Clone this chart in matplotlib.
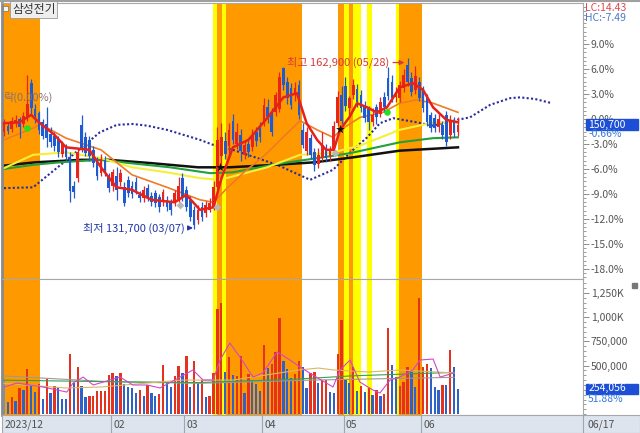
import matplotlib
matplotlib.use("Agg")
import matplotlib.pyplot as plt
import matplotlib.transforms as mtransforms
from matplotlib.patches import Rectangle
from matplotlib.lines import Line2D
from matplotlib.ticker import FixedLocator, AutoMinorLocator

plt.rcParams['font.family'] = ['Noto Sans CJK KR', 'DejaVu Sans']

# ---------------- data (price in % vs. base 151,700, one row per trading day) ----------------
base_price = 151700
opens = [-1.6, -0.8, -1.2, -0.4, 0.0, -0.6, 0.3, 4.3, 1.2, 0.7,
         -0.4, -0.6, -1.8, -2.0, -2.4, -4.2, -3.2, -4.8, -8.1, -7.1,
         -0.7, -2.2, -2.5, -3.7, -5.2, -6.5, -4.9, -7.0, -8.1, -6.9,
         -7.6, -8.2, -7.3, -8.0, -7.6, -9.1, -9.5, -8.3, -9.2, -8.9,
         -9.4, -10.0, -9.7, -10.0, -10.1, -9.7, -7.1, -8.5, -9.7, -10.9,
         -12.1, -10.6, -11.3, -10.9, -10.6, -8.2, -4.5, -2.6, -3.3, -0.2,
         -3.0, -1.9, -4.3, -3.0, -3.4, -1.6, -1.0, -0.4, 1.5, 0.8,
         0.8, 1.2, 6.1, 4.4, 3.7, 2.9, 4.1, -1.3, -3.9, -2.3,
         -4.0, -5.4, -4.7, -3.5, -4.6, -3.8, -0.5, 2.9, 4.0, 1.3,
         2.9, 3.6, 2.9, 1.7, 1.2, -0.3, 1.4, 0.6, 2.6, 4.9,
         4.4, 2.6, 2.5, 3.7, 6.5, 4.9, 3.5, 4.4, 3.7, 2.5,
         0.5, 0.1, -1.0, -0.7, 0.5, -1.9, -0.2, -1.6]
closes = [-0.4, -1.4, -0.2, -0.1, -1.0, 0.4, 1.8, 1.3, 0.4, -1.3,
          -2.0, -2.3, -2.8, -3.3, -4.0, -3.0, -4.6, -8.6, -8.8, -4.0,
          -3.6, -4.1, -4.4, -5.3, -6.9, -4.8, -6.3, -8.3, -6.4, -8.5,
          -6.5, -10.1, -8.9, -9.0, -8.5, -9.5, -8.5, -9.4, -10.0, -10.1,
          -10.6, -8.8, -10.6, -10.9, -8.9, -8.0, -9.4, -10.6, -11.8, -12.7,
          -10.9, -11.8, -10.3, -10.1, -8.2, -2.5, -2.2, -4.2, -1.3, -2.5,
          -1.5, -3.9, -3.1, -4.0, -1.9, -2.7, -2.2, 1.7, 0.3, -1.6,
          2.9, 5.0, 4.1, 2.5, 1.7, 3.7, 0.5, -3.1, -1.6, -4.3,
          -5.5, -4.3, -3.1, -4.7, -3.8, -0.8, 2.6, -0.2, 1.6, 2.5,
          4.1, 2.0, 1.3, 0.1, -0.4, 0.5, 0.3, 2.1, 1.4, 2.8,
          2.5, 3.2, 4.1, 5.3, 4.4, 3.2, 5.2, 2.5, 1.3, -0.4,
          -1.1, -1.1, 0.0, -1.9, -2.8, -0.1, -1.7, -0.66]
highs = [0.0, -0.3, 0.3, 0.5, 0.2, 0.9, 5.3, 4.8, 1.8, 1.0,
         0.0, 1.4, -1.0, -1.5, -2.0, -2.6, -3.0, -4.0, -7.5, -3.6,
         0.5, -1.5, -2.0, -3.2, -4.6, -4.2, -4.5, -6.5, -6.0, -5.8,
         -6.0, -7.6, -6.8, -7.5, -7.0, -8.7, -8.0, -7.8, -8.8, -8.5,
         -9.0, -8.4, -9.2, -9.6, -8.5, -7.0, -6.5, -8.0, -9.3, -10.5,
         -10.3, -10.0, -9.8, -9.5, -7.5, -1.0, -0.5, -1.6, -0.5, 0.6,
         -0.5, -1.2, -2.7, -2.4, -1.2, -1.0, -0.4, 2.5, 2.4, 1.3,
         3.2, 5.6, 6.2, 5.0, 4.3, 4.5, 4.7, -0.5, -1.0, -1.8,
         -3.5, -3.5, -1.5, -3.0, -3.2, -0.2, 3.4, 4.0, 5.0, 2.8,
         4.8, 4.2, 3.5, 2.2, 1.6, 1.3, 1.8, 2.7, 3.2, 6.2,
         5.3, 3.8, 4.6, 6.0, 7.38, 5.6, 6.4, 5.0, 4.0, 3.0,
         0.8, 0.6, 0.6, -0.2, 1.0, 0.5, 0.3, 0.2]
lows = [-2.0, -1.8, -1.5, -0.9, -2.3, -1.0, -0.2, 0.5, -0.5, -1.8,
        -2.4, -3.4, -3.4, -3.8, -4.6, -4.6, -5.0, -10.0, -9.5, -7.6,
        -4.0, -4.5, -5.0, -5.8, -7.3, -6.9, -6.8, -8.8, -8.7, -9.7,
        -8.0, -10.5, -9.4, -9.5, -9.0, -10.0, -10.0, -9.8, -10.5, -10.6,
        -11.2, -10.4, -11.0, -11.5, -10.5, -10.0, -9.8, -11.0, -12.2, -13.18,
        -12.6, -12.2, -11.8, -11.2, -10.9, -8.5, -5.8, -4.8, -4.4, -3.0,
        -3.6, -5.1, -4.8, -4.6, -3.8, -3.2, -2.8, -0.8, -0.5, -2.0,
        0.4, 0.8, 3.5, 1.8, 1.2, 2.2, 0.0, -3.5, -4.3, -4.8,
        -6.2, -5.9, -5.0, -5.2, -5.0, -4.2, -0.8, -0.6, 1.0, 0.5,
        2.4, 1.5, 0.8, -0.4, -1.3, -0.8, -0.6, 0.2, 0.9, 2.3,
        2.0, 2.0, 2.0, 3.2, 4.0, 2.8, 3.0, 2.2, 0.8, -0.8,
        -1.6, -1.6, -1.5, -2.4, -3.3, -2.4, -2.1, -2.0]

volumes_k = [351, 127, 172, 134, 265, 248, 468, 300, 231, 307,
             152, 358, 220, 293, 265, 155, 155, 617, 324, 486,
             289, 179, 186, 189, 241, 238, 238, 403, 420, 393,
             420, 307, 276, 265, 220, 248, 186, 300, 220, 186,
             207, 503, 324, 276, 393, 499, 427, 603, 276, 551,
             317, 351, 172, 186, 427, 1081, 1143, 437, 592, 403,
             393, 603, 220, 413, 351, 310, 241, 713, 472, 513,
             644, 988, 551, 465, 369, 413, 548, 489, 265, 420,
             430, 320, 351, 351, 225, 215, 617, 971, 351, 317,
             489, 238, 293, 231, 265, 196, 248, 186, 207, 885,
             503, 379, 293, 334, 489, 437, 276, 1195, 489, 513,
             472, 282, 248, 300, 300, 661, 489, 254]
volume_dir = list("bbrbrbrbbr" "brbrbbbrbr" "bbrrrrrrrb" "rbbbbrbrbb" "rrbbrrbrbr"
                  "brbrrrrbrb" "rrbrbbbrbr" "rrbbbrrbbr" "rbrrbbrrbb" "rbrbrbrbrr"
                  "bbrrrbbrrr" "bbbrbrbb")

# moving-average lines at sample days
ma5_x = [0, 4, 7, 9, 13, 16, 22, 25, 29, 33, 38, 44, 47, 50.5, 54, 56, 59, 63,
         68, 72, 75.5, 78, 80.7, 83, 85, 86.6, 89, 91, 93.6, 96, 98.7, 102, 105.4,
         108, 110.6, 114, 117]
ma5_y = [-0.5, -0.4, 0.5, -0.4, -1.9, -3.4, -3.7, -5.8, -8.2, -8.5, -9.7, -10.0,
         -9.1, -10.9, -10.6, -7.2, -3.4, -2.5, 0.2, 2.6, 3.1, -0.5, -2.5, -3.7, -3.7,
         -1.3, 0.2, 1.9, 1.4, 0.8, 1.4, 3.8, 4.3, 3.5, 1.4, -0.1, -0.4]
ma20_x = [0, 7.5, 9.3, 16, 25, 33, 42, 50.5, 54, 57.5, 61.6, 67.8, 71.9, 76.3,
          80.7, 84.8, 87.4, 91.8, 97.7, 102, 106.4, 110.6, 117]
ma20_y = [-2.5, -1.1, -0.6, -2.3, -3.7, -6.7, -8.2, -9.7, -10.0, -8.3, -6.5, -4.1,
          -2.2, -0.2, -1.3, -2.2, -1.1, 0.2, 0.8, 1.9, 2.3, 1.9, 0.8]
ma60_x = [0, 7.5, 16, 25, 33, 42, 50.5, 55.7, 67.8, 76.3, 84, 91.7, 102, 109.8, 117]
ma60_y = [-5.9, -4.3, -4.0, -4.7, -5.8, -6.4, -7.1, -7.3, -5.8, -4.3, -4.1, -3.2,
          -1.3, -0.5, -0.3]
ma120_x = [0, 7.5, 14.4, 24.7, 32.5, 42.8, 53.1, 59, 70.4, 80.7, 89.2, 102, 110.6, 117]
ma120_y = [-6.0, -5.5, -5.2, -4.9, -5.3, -5.8, -6.5, -6.4, -5.4, -4.7, -4.1, -2.8,
           -2.3, -2.2]
ma240_x = [0, 8, 20, 27, 38, 50, 58, 70, 80, 90, 102, 117]
ma240_y = [-5.6, -5.2, -4.9, -4.9, -5.3, -5.8, -5.8, -5.5, -5.2, -4.6, -3.8, -3.4]
lead_x = [0, 7.5, 16.2, 24.7, 29.1, 33.2, 36.9, 42, 50.5, 53.9, 59, 70.4, 78.9, 84.8,
          90, 93.6, 96.9, 100.3, 106.4, 110.6, 116.8, 120.1, 125.3, 130.4, 133, 136.9,
          141.2]
lead_y = [-8.3, -8.2, -4.9, -1.6, -0.7, -0.6, -0.8, -1.3, -2.5, -3.1, -3.7, -5.5, -7.3,
          -6.1, -3.7, -2.2, -0.5, 0.1, -0.4, -0.8, -0.1, 0.2, 1.7, 2.5, 2.6, 2.4, 1.9]

# volume averages (thousand shares) at sample days
vma5_x = [0, 3.4, 10, 16.2, 17.8, 20.4, 23, 27.3, 29.9, 33.2, 36.9, 40.2, 45.4, 48.7,
          51.3, 53.9, 55.7, 58.2, 60.8, 64.2, 66.7, 70.4, 73.7, 76.3, 79.6, 84.8, 86.6,
          89.2, 91.7, 95.1, 96.9, 99.5, 102, 105.4, 107.2, 110.6, 112.4, 116]
vma5_y = [279, 320, 279, 227, 320, 382, 300, 351, 382, 300, 300, 269, 382, 455,
          351, 351, 558, 734, 589, 382, 424, 641, 558, 486, 403, 279, 455,
          558, 331, 248, 217, 351, 382, 455, 558, 568, 382, 424]
vma20_x = [0, 16, 25, 46, 59, 76, 81, 85, 94, 102, 116]
vma20_y = [317, 269, 279, 351, 351, 455, 475, 455, 434, 455, 424]
vma60_x = [0, 25, 50, 75, 90, 116]
vma60_y = [350, 335, 325, 360, 395, 430]
vma120_x = [0, 27, 50, 80, 116]
vma120_y = [393, 334, 317, 351, 379]

# signal markers
green_sig = ([6, 98.7], [-1.1, 0.8])
black_sig = ([55.7, 86.6], [-5.8, -1.2])
gray_sig = ([45.4, 54.9, 85.3], [-10.3, -10.6, -4.1])

# background signal bands (start day, end day, colour)
bands = [(-0.5, 9.3, '#ff9900'), (53.9, 54.9, '#ffff00'), (54.9, 56.2, '#ff9900'),
         (56.2, 57.2, '#ffff00'), (57.2, 76.8, '#ff9900'), (86.1, 87.6, '#ff9900'),
         (87.6, 88.9, '#ffff00'), (88.9, 89.9, '#ff9900'), (89.9, 92.0, '#ffff00'),
         (93.6, 94.8, '#ffff00'), (101.0, 101.8, '#ffff00'), (101.8, 107.7, '#ff9900')]

month_labels = ['2023/12', '02', '03', '04', '05', '06']
month_starts = [-0.5, 27.5, 46.5, 66.5, 87.5, 107.5]

# ---------------- layout helpers ----------------
W, H = 640, 433
def box(x0, y0, x1, y1):
    return [x0 / W, 1 - y1 / H, (x1 - x0) / W, (y1 - y0) / H]

fig = plt.figure(figsize=(6.4, 4.33), dpi=100)
fig.patch.set_facecolor('white')
ax = fig.add_axes(box(2, 3, 583, 279))
axv = fig.add_axes(box(2, 279, 583, 415))
axd = fig.add_axes(box(2, 415, 640, 433))

xmin, xmax = -0.515, 149.23
n = len(closes)
days = list(range(n))
RED, BLUE = '#e8241c', '#1f5bd0'

for a in (ax, axv):
    a.set_xlim(xmin, xmax)
    for s0, s1, col in bands:
        a.axvspan(s0, s1, color=col, lw=0, zorder=0)
    a.set_xticks([])
    for sp in a.spines.values():
        sp.set_color('#a8a8a8')
        sp.set_linewidth(0.8)
    a.spines['left'].set_linewidth(2)
    a.spines['left'].set_color('#8a8a8a')
    a.yaxis.tick_right()
    a.tick_params(axis='y', which='major', length=4, width=0.7, color='#8c8c8c',
                  labelsize=7.5, labelcolor='#555555', pad=1.5)
    a.tick_params(axis='y', which='minor', length=2, width=0.6, color='#8c8c8c')

# ---------------- price panel ----------------
ax.set_ylim(-19.21, 13.93)
pct_ticks = [9, 6, 3, 0, -3, -6, -9, -12, -15, -18]
ax.yaxis.set_major_locator(FixedLocator(pct_ticks))
ax.set_yticklabels([f'{t:.1f}%' for t in pct_ticks])
ax.yaxis.set_minor_locator(AutoMinorLocator(6))

ax.plot(lead_x, lead_y, color='#2b2b9c', lw=1.5, ls=(0, (1, 1.1)),
        dash_capstyle='butt', zorder=2)
ax.plot(ma240_x, ma240_y, color='#111111', lw=1.8, zorder=2)
ax.plot(ma120_x, ma120_y, color='#21a03c', lw=1.5, zorder=2)
ax.plot(ma60_x, ma60_y, color='#f4f03a', lw=1.5, zorder=2)
ax.plot(ma20_x, ma20_y, color='#f07a26', lw=1.2, zorder=2)

cols = [RED if c >= o else BLUE for o, c in zip(opens, closes)]
ax.vlines(days, lows, highs, colors=cols, lw=0.9, zorder=3)
ax.bar(days, [max(abs(c - o), 0.15) for o, c in zip(opens, closes)],
       bottom=[min(o, c) for o, c in zip(opens, closes)], width=0.7,
       color=cols, lw=0, zorder=4)
ax.plot(ma5_x, ma5_y, color='#e8201a', lw=1.8, zorder=5)

ax.scatter(*green_sig, s=22, color='#22e022', zorder=6, lw=0)
ax.scatter(*black_sig, s=45, color='#111111', marker='*', zorder=6, lw=0)
ax.scatter(*gray_sig, s=16, color='#b8b8b8', marker='D', zorder=6, lw=0)

# high / low annotations
hi_i = highs.index(max(highs))
lo_i = lows.index(min(lows))
hi_p = round(base_price * (1 + max(highs) / 100), -2)
lo_p = round(base_price * (1 + min(lows) / 100), -2)
ax.annotate(f'최고 {hi_p:,.0f} (05/28)', xy=(hi_i - 0.8, max(highs) - 0.6),
            xytext=(hi_i - 4.8, max(highs) - 0.6), ha='right', va='center',
            fontsize=8, color='#d83a3a', zorder=7,
            arrowprops=dict(arrowstyle='-|>', color='#d83a3a', lw=0.9,
                            mutation_scale=7, shrinkA=1, shrinkB=0))
ax.annotate(f'최저 {lo_p:,.0f} (03/07)', xy=(lo_i - 0.3, min(lows) + 0.1),
            xytext=(lo_i - 2.4, min(lows) + 0.1), ha='right', va='center',
            fontsize=8, color='#2236a0', zorder=7,
            arrowprops=dict(arrowstyle='-|>', color='#2236a0', lw=0.9,
                            mutation_scale=7, shrinkA=1, shrinkB=0))
ax.text(0.001, 2.64, '락(0.00%)', transform=mtransforms.blended_transform_factory(
        ax.transAxes, ax.transData), ha='left', va='center', fontsize=8,
        color='#8a7070', zorder=7)

# last price tag
tr = mtransforms.blended_transform_factory(ax.transAxes, ax.transData)
last = closes[-1]
ax.add_patch(Rectangle((1.005, last - 0.62), 0.09, 1.24, transform=tr,
                       color='#1d4fd6', clip_on=False, zorder=8))
ax.text(1.009, last, f'{round(base_price * (1 + last / 100), -2):,.0f}', transform=tr,
        color='white', fontsize=7.5, va='center', ha='left', clip_on=False, zorder=9)
ax.text(1.009, last - 1.15, f'{last:.2f}%', transform=tr, color='#3a78d8',
        fontsize=7.5, va='center', ha='left', clip_on=False, zorder=9)

# ---------------- volume panel ----------------
vols = [v * 1000 for v in volumes_k]
axv.set_ylim(-10000, 1394700)
vt = [500000, 750000, 1000000, 1250000]
axv.yaxis.set_major_locator(FixedLocator(vt))
axv.set_yticklabels(['500,000', '750,000', '1,000K', '1,250K'])
axv.yaxis.set_minor_locator(AutoMinorLocator(5))
vcols = ['#e4321e' if d == 'r' else '#2e62c8' for d in volume_dir]
vcols[0] = '#7f8fa8'
axv.bar(days, vols, width=0.6, color=vcols, lw=0, zorder=3)
for xs, ys, col in ((vma120_x, vma120_y, '#9a9a9a'), (vma60_x, vma60_y, '#35a050'),
                    (vma20_x, vma20_y, '#d8b868'), (vma5_x, vma5_y, '#d048c8')):
    axv.plot(xs, [y * 1000 for y in ys], color=col, lw=0.8, zorder=4)

trv = mtransforms.blended_transform_factory(axv.transAxes, axv.transData)
lastv = vols[-1]
axv.add_patch(Rectangle((1.005, lastv - 52000), 0.09, 104000, transform=trv,
                        color='#1d4fd6', clip_on=False, zorder=8))
axv.text(1.009, lastv + 14000, '254,056', transform=trv, color='white', fontsize=7.5,
         va='center', ha='left', clip_on=False, zorder=9)
axv.text(1.009, lastv - 100000, '51.88%', transform=trv, color='#3a78d8',
         fontsize=7.5, va='center', ha='left', clip_on=False, zorder=9)
axv.add_patch(Rectangle((1.085, 1300000), 0.008, 55000, transform=trv,
                        color='#777777', clip_on=False, zorder=8))

# ---------------- date strip ----------------
axd.set_facecolor('#dde4ee')
axd.set_xlim(xmin, 163.9)
axd.set_ylim(0, 1)
axd.set_xticks([])
axd.set_yticks([])
for sp in axd.spines.values():
    sp.set_color('#a8a8a8')
    sp.set_linewidth(0.8)
for xs, lab in zip(month_starts, month_labels):
    if xs > 0:
        axd.axvline(xs, color='#a0a6b0', lw=0.8)
    axd.text(xs + 0.6, 0.45, lab, fontsize=7.5, color='#505050', va='center', ha='left')
axd.axvline(xmax, color='#a0a6b0', lw=0.8)
axd.text(xmax + 1.2, 0.45, '06/17', fontsize=7.5, color='#505050', va='center', ha='left')

# ---------------- header texts and frame ----------------
fig.add_artist(Line2D([0, 1], [1 - 1 / H, 1 - 1 / H], transform=fig.transFigure,
                      color='#a0a0a0', lw=1.5))
fig.add_artist(Rectangle((3 / W, 1 - 11 / H), 5 / W, 5 / H, transform=fig.transFigure,
                         fc='#f4f4f4', ec='#808080', lw=0.6))
fig.text(12 / W, 1 - 9.5 / H, '삼성전기', fontsize=8.5, color='#333333', va='center',
         ha='left', bbox=dict(fc='#eeeeee', ec='#9a9a9a', lw=0.6, pad=1.2))
fig.text(585 / W, 1 - 8 / H, 'LC:14.43', fontsize=7.5, color='#e04848', va='center')
fig.text(585 / W, 1 - 18 / H, 'HC:-7.49', fontsize=7.5, color='#4a78c8', va='center')

fig.savefig('out.png', dpi=100)
